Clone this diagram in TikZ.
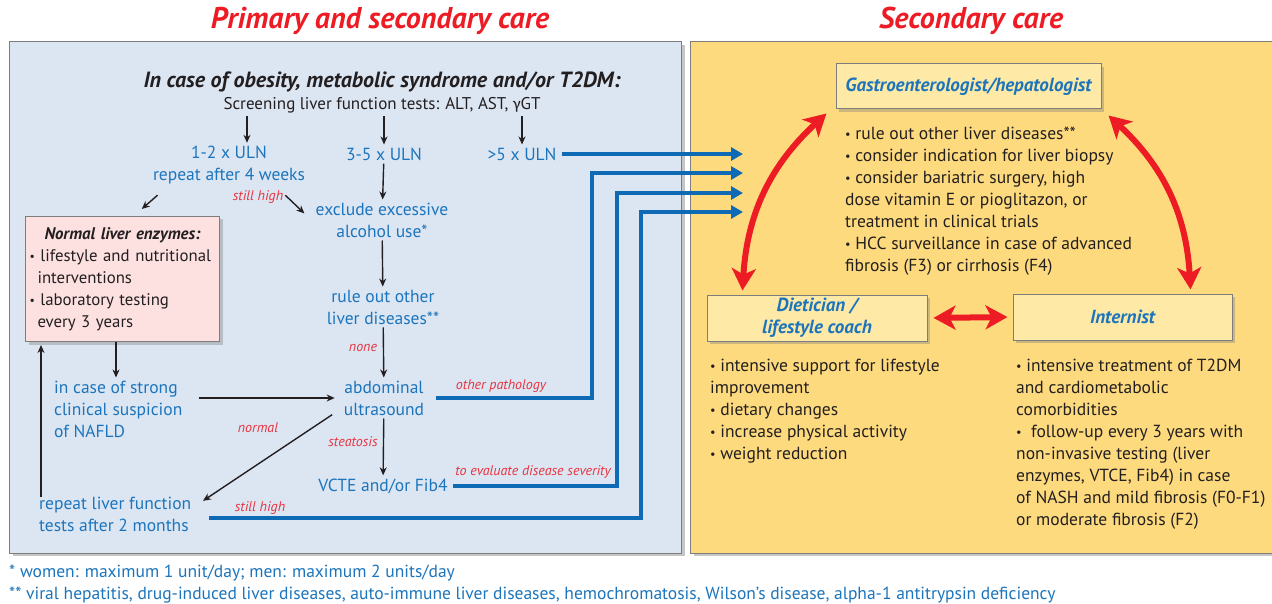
\documentclass[tikz,border=0pt]{standalone}
\usepackage{fontspec}
\setmainfont{PT Sans}
\newfontfamily\grkfont{Carlito}
\usetikzlibrary{arrows.meta,shadows}

\definecolor{panelblue}{RGB}{220,230,243}
\definecolor{panelyellow}{RGB}{253,218,125}
\definecolor{boxyellow}{RGB}{254,233,166}
\definecolor{boxpink}{RGB}{253,225,225}
\definecolor{txtblue}{RGB}{28,117,188}
\definecolor{linkblue}{RGB}{14,106,180}
\definecolor{carered}{RGB}{237,28,36}
\definecolor{lblred}{RGB}{232,52,64}
\definecolor{inkgray}{RGB}{35,31,32}
\definecolor{framegray}{RGB}{125,125,125}

\newcommand\bul{\raisebox{1.2pt}{\scalebox{0.7}{•}}\ }

\tikzset{
  txt/.style={font=\fontsize{17.5}{22}\selectfont, text=inkgray, inner sep=0pt},
  bluetxt/.style={txt, text=txtblue, align=center},
  redlbl/.style={font=\fontsize{14}{16}\selectfont\itshape, text=lblred, inner sep=0pt},
  caretitle/.style={font=\fontsize{30}{33}\selectfont\bfseries\itshape, text=carered},
  flow/.style={draw=inkgray, line width=1.4pt, shorten <=3pt, shorten >=3pt, -{Stealth[length=8pt,width=7pt]}},
  linkarrow/.style={draw=linkblue, line width=3.5pt, shorten <=5pt, -{Triangle[length=12pt,width=13pt]}},
  bothway/.style={draw=carered, line width=6pt, {Stealth[length=22pt,width=24pt,inset=6pt]}-{Stealth[length=22pt,width=24pt,inset=6pt]}},
  panel/.style={draw=framegray, line width=1pt, drop shadow={shadow xshift=4pt, shadow yshift=-3pt, opacity=0.45}},
  rolebox/.style={draw=framegray, fill=boxyellow, line width=1pt, drop shadow={shadow xshift=3pt, shadow yshift=-3pt, opacity=0.4},
    font=\fontsize{19}{22}\selectfont\bfseries\itshape, text=txtblue, align=center, inner sep=0pt},
}

\begin{document}
\begin{tikzpicture}[x=1pt,y=-1pt]

	\useasboundingbox[fill=white] (0,0) rectangle (1272,604);

	\draw[panel, fill=panelblue] (9,42) rectangle (681,553);
	\draw[panel, fill=panelyellow] (690,42) rectangle (1290,553);

	\node[caretitle] (primtitle) at (380,21) {Primary and secondary care};
	\node[caretitle] (sectitle) at (971,21) {Secondary care};

	\node[txt, font=\fontsize{22}{24}\selectfont\bfseries\itshape] (obese) at (382,82) {In case of obesity, metabolic syndrome and/or T2DM:};
	\node[txt, font=\fontsize{17}{22}\selectfont] (screen) at (382,105) {Screening liver function tests: ALT, AST, {\grkfont γ}GT};

	\node[bluetxt] (uln12) at (229,165) {1-2 x ULN\\repeat after 4 weeks};
	\node[bluetxt] (uln35) at (384,154) {3-5 x ULN};
	\node[bluetxt] (uln5) at (522,154) {>5 x ULN};
	\node[bluetxt] (excl) at (382,220) {exclude excessive\\alcohol use*};
	\node[bluetxt] (ruleout) at (383,307) {rule out other\\liver diseases**};
	\node[bluetxt] (abdo) at (384,398) {abdominal\\ultrasound};
	\node[bluetxt] (vcte) at (383,486) {VCTE and/or Fib4};
	\node[bluetxt, align=left, anchor=west] (suspect) at (54,409) {in case of strong\\clinical suspicion\\of NAFLD};
	\node[bluetxt, align=left, anchor=west] (rep2) at (39,514) {repeat liver function\\tests after 2 months};

	\node[txt, font=\fontsize{16.8}{22}\selectfont, draw=framegray, fill=boxpink, line width=1pt, anchor=north west,
	      text width=186pt, align=left, inner xsep=4pt, inner ysep=6pt, minimum height=125pt,
	      drop shadow={shadow xshift=3pt, shadow yshift=-3pt, opacity=0.4}] (normbox) at (25,216)
	  {\makebox[\hsize]{\bfseries\itshape Normal liver enzymes:}\\
	   \bul lifestyle and nutritional\\
	   \hspace*{8pt}interventions\\
	   \bul laboratory testing\\
	   \hspace*{8pt}every 3 years};

	\draw[flow] ([xshift=18pt]screen.south -| uln12.north) -- ([xshift=18pt]uln12.north);
	\draw[flow] (screen.south -| uln35.north) -- (uln35.north);
	\draw[flow] (screen.south -| uln5.north) -- (uln5.north);
	\draw[flow] ([shift={(7pt,-9pt)}]uln12.south west) -- ([xshift=17pt,yshift=5pt]normbox.north);
	\draw[flow] ([shift={(-22pt,-9pt)}]uln12.south east) -- ([shift={(-9pt,-13pt)}]excl.north west);
	\draw[flow] (uln35) -- (excl);
	\draw[flow] (excl) -- (ruleout);
	\draw[flow] (ruleout) -- (abdo);
	\draw[flow] (abdo) -- (vcte);
	\draw[flow, shorten <=0pt] ([xshift=-6.5pt]normbox.south) -- ([xshift=-6.5pt]normbox.south |- suspect.north);
	\draw[flow, shorten <=16pt, shorten >=9pt] (suspect.east |- abdo.west) -- (abdo.west);
	\draw[flow] ([shift={(-9pt,-15pt)}]abdo.west) -- ([shift={(9pt,-6pt)}]rep2.north east);
	\draw[flow, shorten <=0pt] ([xshift=2pt]rep2.north west) -- ([xshift=2pt]rep2.north west |- normbox.south);

	\node[redlbl] (hi1) at (258,197) {still high};
	\node[redlbl] (nonelbl) at (363,348) {none};
	\node[redlbl] (steat) at (353,442) {steatosis};
	\node[redlbl] (normlbl) at (258,428) {normal};
	\node[redlbl] (otherlbl) at (501,386) {other pathology};
	\node[redlbl] (sevlbl) at (533,472) {to evaluate disease severity};
	\node[redlbl] (hi2) at (260,508) {still high};

	\coordinate (in1) at (743,154);
	\coordinate (in2) at (743,173);
	\coordinate (in3) at (743,193);
	\coordinate (in4) at (743,212);
	\coordinate (k2) at (592,173);
	\coordinate (k3) at (617,193);
	\coordinate (k4) at (641,212);

	\draw[linkarrow] (uln5.east) -- (in1);
	\draw[linkarrow, shorten <=12pt] (abdo.east) -| (k2) -- (in2);
	\draw[linkarrow] (vcte.east) -| (k3) -- (in3);
	\draw[linkarrow, shorten <=18pt] ([yshift=-4pt]rep2.east) -| (k4) -- (in4);

	\node[rolebox, minimum width=265pt, minimum height=45pt] (gastro) at (968.5,86.5) {Gastroenterologist/hepatologist};
	\node[rolebox, minimum width=220pt, minimum height=46pt] (diet) at (817,318) {Dietician /\\lifestyle coach};
	\node[rolebox, minimum width=219pt, minimum height=46pt] (intern) at (1122.5,317) {Internist};

	\node[txt, align=left, anchor=west] (gastrotasks) at (845,201)
	  {\bul rule out other liver diseases**\\
	   \bul consider indication for liver biopsy\\
	   \bul consider bariatric surgery, high\\
	   dose vitamin E or pioglitazon, or\\
	   treatment in clinical trials\\
	   \bul HCC surveillance in case of advanced\\
	   fibrosis (F3) or cirrhosis (F4)};
	\node[txt, align=left, anchor=west] (diettasks) at (710,411)
	  {\bul intensive support for lifestyle\\
	   improvement\\
	   \bul dietary changes\\
	   \bul increase physical activity\\
	   \bul weight reduction};
	\node[txt, align=left, anchor=west] (interntasks) at (1016,444)
	  {\bul intensive treatment of T2DM\\
	   and cardiometabolic\\
	   comorbidities\\
	   \bul\ follow-up every 3 years with\\
	   non-invasive testing (liver\\
	   enzymes, VTCE, Fib4) in case\\
	   of NASH and mild fibrosis (F0-F1)\\
	   or moderate fibrosis (F2)};

	\draw[bothway] ([shift={(36pt,4pt)}]diet.north west) to[bend left=22] ([shift={(-9pt,-4pt)}]gastro.south west);
	\draw[bothway] ([shift={(7pt,-6pt)}]gastro.south east) to[bend left=22] ([shift={(-42pt,4pt)}]intern.north east);
	\draw[bothway, shorten <=6pt, shorten >=5pt] (diet.east) -- (intern.west);

	\node[bluetxt, anchor=west] (fn1) at (9,573) {* women: maximum 1 unit/day; men: maximum 2 units/day};
	\node[bluetxt, anchor=west] (fn2) at (9,595) {** viral hepatitis, drug-induced liver diseases, auto-immune liver diseases, hemochromatosis, Wilson’s disease, alpha-1 antitrypsin deficiency};

\end{tikzpicture}
\end{document}
